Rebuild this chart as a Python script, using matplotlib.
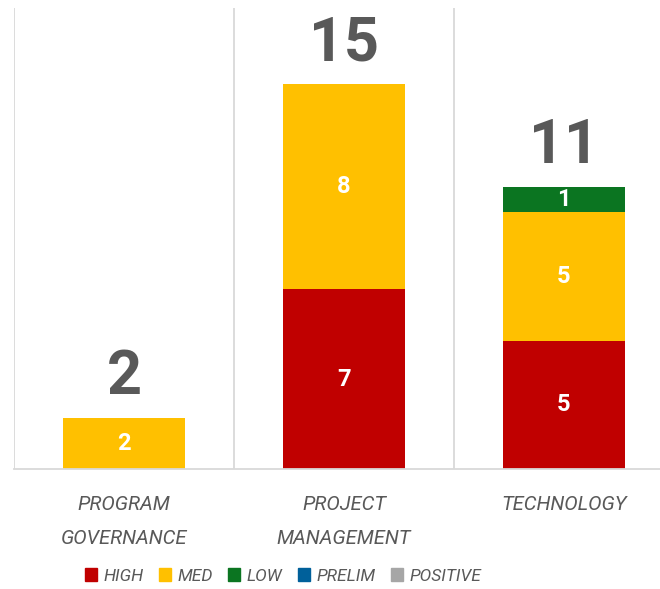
import matplotlib.pyplot as plt
from matplotlib.patches import Patch
import numpy as np

categories = ["PROGRAM\nGOVERNANCE", "PROJECT\nMANAGEMENT", "TECHNOLOGY"]
series = ["HIGH", "MED", "LOW", "PRELIM", "POSITIVE"]
high = [0, 7, 5]
med = [2, 8, 5]
low = [0, 0, 1]
prelim = [0, 0, 0]
positive = [0, 0, 0]
colors = ["#C00000", "#FFC000", "#0B7521", "#00609A", "#A6A6A6"]

gray = "#595959"
values = [high, med, low, prelim, positive]

fig = plt.figure(figsize=(6.6, 5.89), dpi=100)
ax = fig.add_axes([14 / 660, 1 - 469 / 589, 646 / 660, 461 / 589])

x = np.arange(len(categories))
bottom = np.zeros(len(categories))
for name, vals, c in zip(series, values, colors):
    vals = np.array(vals)
    ax.bar(x, vals, width=0.555, bottom=bottom, color=c, label=name, zorder=2)
    for xi, b, v in zip(x, bottom, vals):
        if v > 0:
            ax.text(xi, b + v / 2, str(v), ha="center", va="center", color="white",
                    fontsize=17, fontweight="bold", fontfamily="Roboto", zorder=3)
    bottom += vals

# totals on top
for xi, t in zip(x, bottom):
    ax.text(xi, t + 0.45, str(int(t)), ha="center", va="bottom", color=gray,
            fontsize=44, fontweight="bold", fontfamily="Roboto")

ax.set_xlim(-0.5, -0.5 + 646 / 220)
ax.set_ylim(0, 17.96)
for xv in [-0.5, 0.5, 1.5]:
    ax.axvline(xv, color="#D9D9D9", lw=1.3, zorder=1)

for s in ["top", "right", "left"]:
    ax.spines[s].set_visible(False)
ax.spines["bottom"].set_color("#D9D9D9")
ax.spines["bottom"].set_linewidth(1.3)
ax.set_yticks([])
ax.set_xticks(x)
ax.set_xticklabels(categories, color=gray, fontsize=14.5,
                   fontstyle="italic", fontfamily="Roboto",
                   linespacing=1.95)
ax.tick_params(axis="x", length=0, pad=19)

handles = [Patch(color=c) for c in colors]
fig.legend(handles, series, loc="center", bbox_to_anchor=(283 / 660, 1 - 576 / 589),
           ncol=5, frameon=False, handlelength=0.7, handleheight=0.7,
           handletextpad=0.35, columnspacing=0.9,
           prop={"family": "Roboto", "style": "italic", "size": 12.5},
           labelcolor=gray)

fig.savefig("out.png", dpi=100)
